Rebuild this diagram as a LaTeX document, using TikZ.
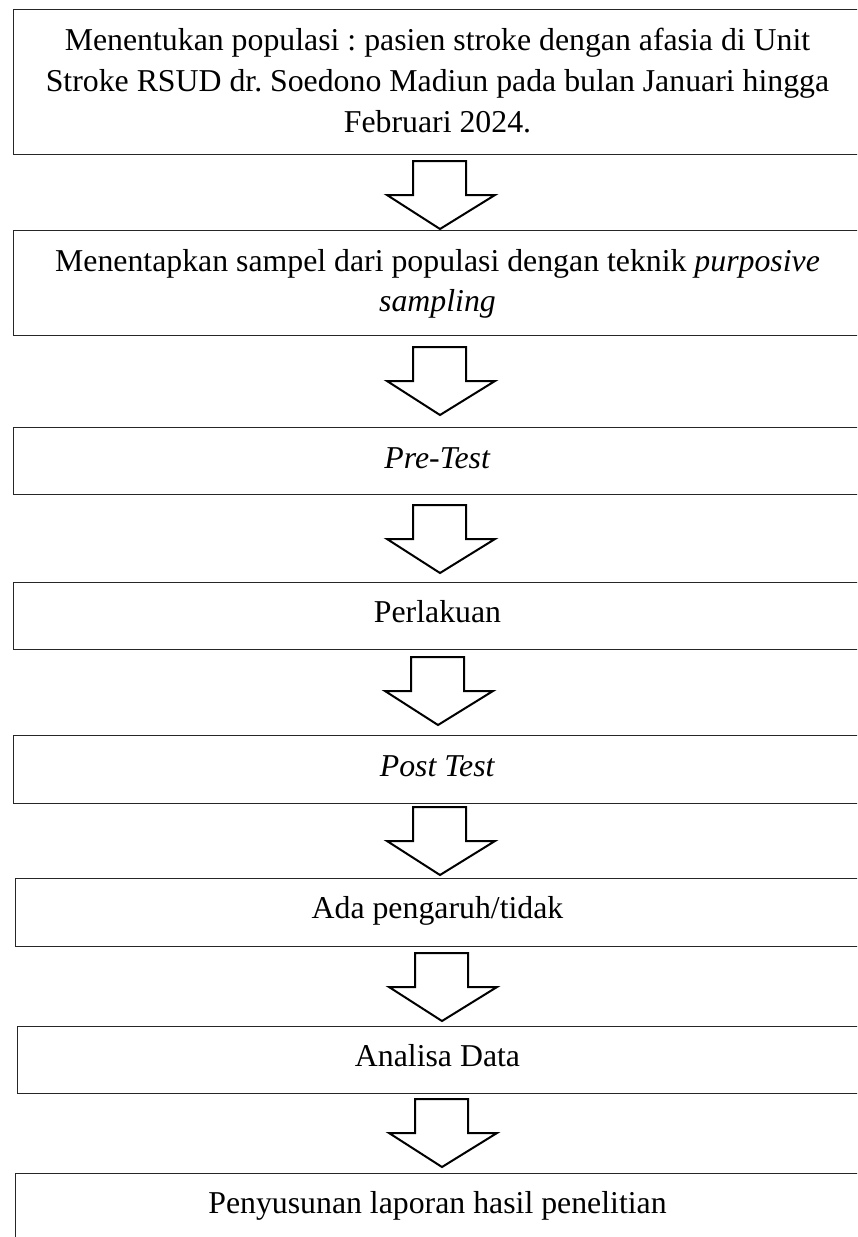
\documentclass[tikz,border=0pt]{standalone}
\usepackage{fontspec}
\setmainfont{Liberation Serif}
\frenchspacing
\begin{document}
\begin{tikzpicture}[x=1pt,y=-1pt,
  box/.style={draw=black!85, line width=1.2pt, rectangle, inner sep=0pt, anchor=north west},
  txt/.style={anchor=base, inner sep=0pt, font=\fontsize{31.8}{41}\selectfont\frenchspacing},
  barrow/.style={draw=black, line width=2pt, line join=miter, fill=white}]
\useasboundingbox (0,0) rectangle (857,1237);
\clip (0,0) rectangle (857,1237);
% boxes
\node[box, minimum width=849pt, minimum height=145pt] (b1) at (13,9) {};
\node[box, minimum width=849pt, minimum height=105pt] (b2) at (13,230) {};
\node[box, minimum width=849pt, minimum height=67pt] (b3) at (13,427) {};
\node[box, minimum width=849pt, minimum height=67pt] (b4) at (13,582) {};
\node[box, minimum width=849pt, minimum height=68pt] (b5) at (13,735) {};
\node[box, minimum width=847pt, minimum height=68pt] (b6) at (15,878) {};
\node[box, minimum width=845pt, minimum height=67pt] (b7) at (17,1026) {};
\node[box, minimum width=847pt, minimum height=90pt] (b8) at (15,1173) {};
% texts
\node[txt] (t1a) at (437.5,50) {Menentukan populasi : pasien stroke dengan afasia di Unit};
\node[txt] (t1b) at (437.5,91) {Stroke RSUD dr. Soedono Madiun pada bulan Januari hingga};
\node[txt] (t1c) at (437.5,132) {Februari 2024.};
\node[txt] (t2a) at (437.5,271) {Menentapkan sampel dari populasi dengan teknik \textit{purposive}};
\node[txt] (t2b) at (437.5,311) {\textit{sampling}};
\node[txt] (t3) at (437.5,468) {\textit{Pre-Test}};
\node[txt] (t4) at (437.5,622) {Perlakuan};
\node[txt] (t5) at (437.5,776) {\textit{Post Test}};
\node[txt] (t6) at (437.5,918) {Ada pengaruh/tidak};
\node[txt] (t7) at (437.5,1066) {Analisa Data};
\node[txt] (t8) at (437.5,1213) {Penyusunan laporan hasil penelitian};
% arrow anchor coordinates (top centre of each block arrow)
\coordinate (a1) at (440,161);
\coordinate (a2) at (440,347);
\coordinate (a3) at (440,505);
\coordinate (a4) at (438,657);
\coordinate (a5) at (440,807);
\coordinate (a6) at (442,953);
\coordinate (a7) at (442,1099);
\foreach \a in {a1,a2,a3,a4,a5,a6,a7}{
  \draw[barrow, shift={(\a)}] (-27,0) -- (26,0) -- (26,34) -- (55,34) -- (0,68) -- (-53,34) -- (-27,34) -- cycle;
}
\end{tikzpicture}
\end{document}
